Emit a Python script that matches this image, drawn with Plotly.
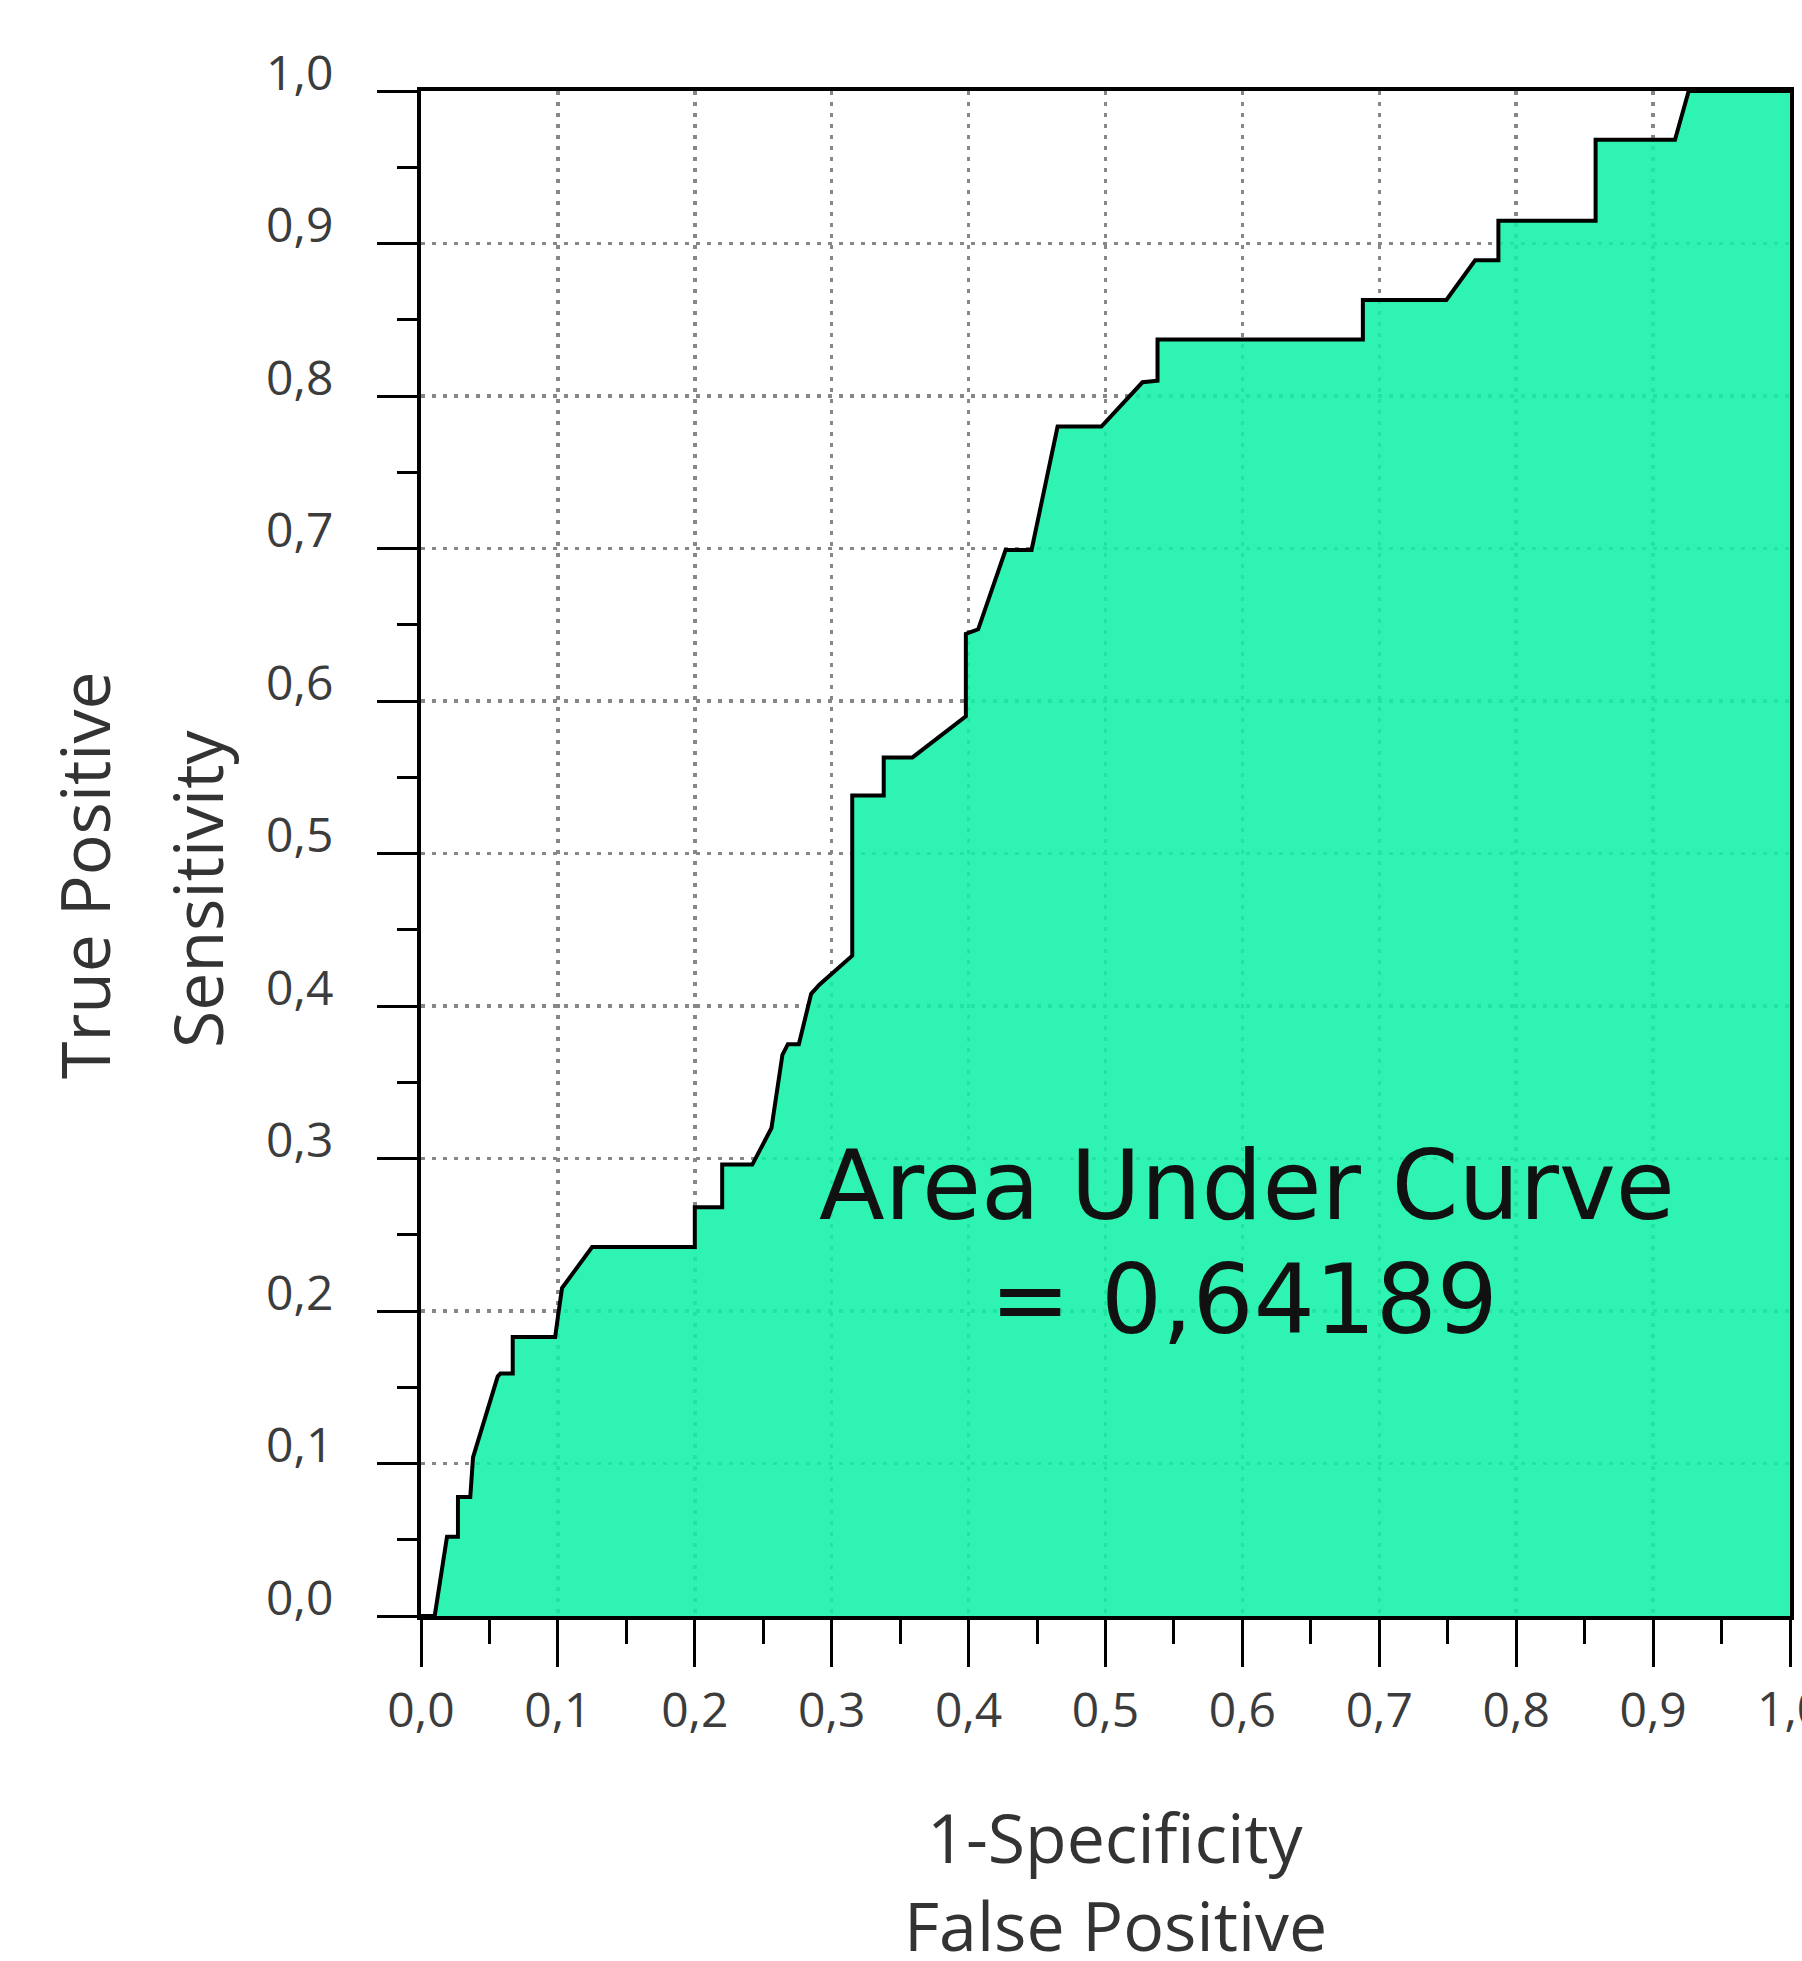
import plotly.graph_objects as go

# ROC curve vertices (1-Specificity, Sensitivity)
fpr = [0.000, 0.010, 0.019, 0.027, 0.027, 0.036, 0.038, 0.056, 0.058, 0.067, 0.067,
       0.098, 0.100, 0.103, 0.125, 0.200, 0.200, 0.220, 0.220, 0.242, 0.256, 0.264,
       0.268, 0.276, 0.285, 0.291, 0.315, 0.315, 0.338, 0.338, 0.359, 0.398, 0.398,
       0.407, 0.427, 0.446, 0.465, 0.497, 0.527, 0.538, 0.538, 0.688, 0.688, 0.749,
       0.770, 0.787, 0.787, 0.858, 0.858, 0.916, 0.926, 1.000]
tpr = [0.000, 0.000, 0.052, 0.052, 0.078, 0.078, 0.104, 0.157, 0.159, 0.159, 0.183,
       0.183, 0.196, 0.215, 0.242, 0.242, 0.268, 0.268, 0.296, 0.296, 0.320, 0.368,
       0.375, 0.375, 0.408, 0.414, 0.433, 0.538, 0.538, 0.563, 0.563, 0.590, 0.644,
       0.647, 0.699, 0.699, 0.780, 0.780, 0.809, 0.810, 0.837, 0.837, 0.863, 0.863,
       0.889, 0.889, 0.915, 0.915, 0.968, 0.968, 1.000, 1.000]

tick_vals = [0.0, 0.1, 0.2, 0.3, 0.4, 0.5, 0.6, 0.7, 0.8, 0.9, 1.0]
tick_text = ["0,0", "0,1", "0,2", "0,3", "0,4", "0,5", "0,6", "0,7", "0,8", "0,9", "1,0"]

auc_line1 = "Area Under Curve"
auc_line2 = "= 0,64189"
x_title = ["1-Specificity", "False Positive"]
y_title = ["True Positive", "Sensitivity"]

W, H = 1802, 1961
L, R, T, B = 421, 8, 91, 345

fig = go.Figure()
fig.add_trace(go.Scatter(
    x=fpr, y=tpr, mode="lines",
    line=dict(color="black", width=4),
    fill="tozeroy", fillcolor="rgba(18,241,168,0.88)",
    hoverinfo="skip", showlegend=False,
))

label_font = dict(family="Open Sans", size=48, color="#3c3c3c")
title_font = dict(family="Open Sans", size=68, color="#333333")

common = dict(
    range=[0, 1], tickvals=tick_vals, ticktext=tick_text,
    showline=True, linecolor="black", linewidth=4, mirror=True,
    ticks="outside", tickcolor="black", tickwidth=3,
    showgrid=True, gridcolor="rgb(135,135,135)", gridwidth=3.5, griddash="4px,7px",
    zeroline=False, tickfont=label_font, fixedrange=True,
)

fig.update_xaxes(**common, ticklen=47, ticklabelstandoff=2,
                 minor=dict(tick0=0, dtick=0.05, ticks="outside", ticklen=24,
                            tickwidth=3, tickcolor="black", showgrid=False))
fig.update_yaxes(**common, ticklen=40, ticklabelstandoff=34, ticklabelshift=-18,
                 minor=dict(tick0=0, dtick=0.05, ticks="outside", ticklen=20,
                            tickwidth=3, tickcolor="black", showgrid=False))

ann = []
ann.append(dict(text=auc_line1, x=0.603, y=0.282, xref="x", yref="y", showarrow=False,
                xanchor="center", yanchor="middle",
                font=dict(family="DejaVu Sans", size=96, color="#111111")))
ann.append(dict(text=auc_line2, x=0.601, y=0.207, xref="x", yref="y", showarrow=False,
                xanchor="center", yanchor="middle",
                font=dict(family="DejaVu Sans", size=96, color="#111111")))
# last x tick label (clipped by the right edge, as in the reference)
ann.append(dict(text=tick_text[-1], x=tick_vals[-1], y=-0.0597, xref="x", yref="paper",
                showarrow=False, xanchor="center", yanchor="middle", font=label_font))
ann.append(dict(text=x_title[0], x=0.507, y=-0.1443, xref="paper", yref="paper",
                showarrow=False, xanchor="center", yanchor="middle", font=title_font))
ann.append(dict(text=x_title[1], x=0.507, y=-0.2020, xref="paper", yref="paper",
                showarrow=False, xanchor="center", yanchor="middle", font=title_font))
ann.append(dict(text=y_title[0], x=-0.246, y=0.486, xref="paper", yref="paper",
                showarrow=False, xanchor="center", yanchor="middle", textangle=-90,
                font=title_font))
ann.append(dict(text=y_title[1], x=-0.164, y=0.477, xref="paper", yref="paper",
                showarrow=False, xanchor="center", yanchor="middle", textangle=-90,
                font=title_font))

fig.update_layout(
    width=W, height=H,
    margin=dict(l=L, r=R, t=T, b=B, pad=0),
    paper_bgcolor="white", plot_bgcolor="white",
    annotations=ann, showlegend=False,
)

fig.write_html("out.html", config={"displayModeBar": False, "staticPlot": True},
               post_script="document.body.style.margin='0';document.body.style.overflow='hidden';")
